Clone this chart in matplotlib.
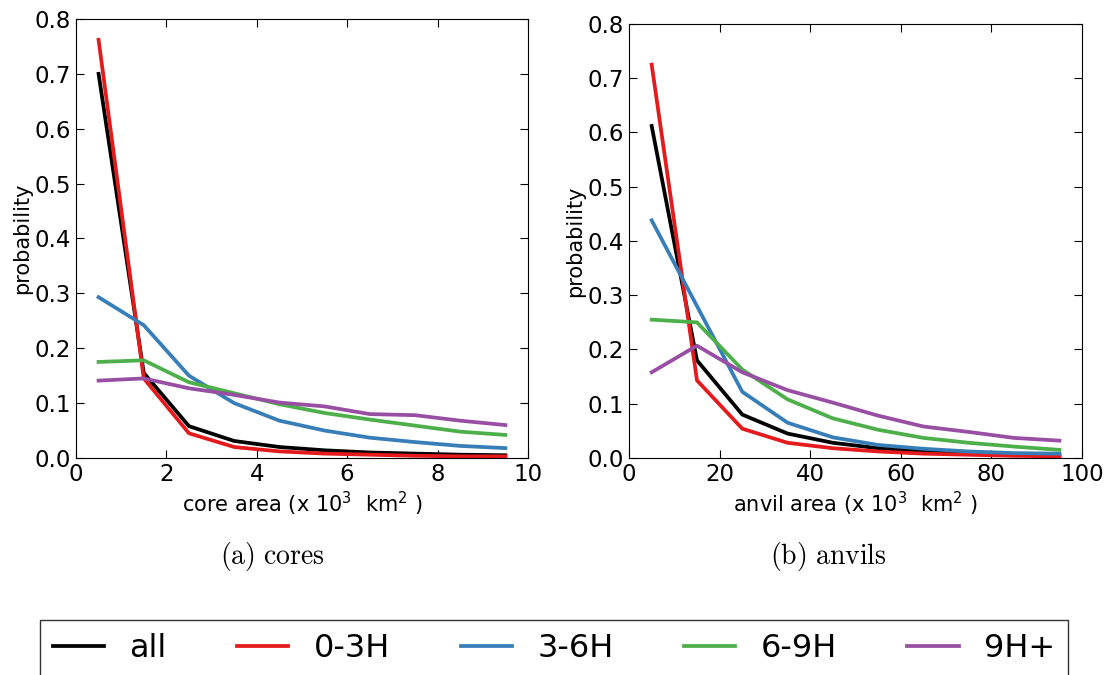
import numpy as np
import matplotlib.pyplot as plt

# bin centres
core_x = [0.5, 1.5, 2.5, 3.5, 4.5, 5.5, 6.5, 7.5, 8.5, 9.5]
anvil_x = [5, 15, 25, 35, 45, 55, 65, 75, 85, 95]

labels = ['all', '0-3H', '3-6H', '6-9H', '9H+']
colors = ['black', '#e41a1c', '#377eb8', '#4daf4a', '#984ea3']

# core area distributions
core_all = [0.700, 0.155, 0.058, 0.031, 0.020, 0.014, 0.010, 0.008, 0.006, 0.005]
core_03 = [0.762, 0.145, 0.045, 0.020, 0.012, 0.008, 0.006, 0.004, 0.003, 0.003]
core_36 = [0.293, 0.242, 0.150, 0.100, 0.068, 0.050, 0.037, 0.029, 0.022, 0.018]
core_69 = [0.175, 0.178, 0.138, 0.118, 0.098, 0.082, 0.070, 0.059, 0.048, 0.042]
core_9p = [0.141, 0.145, 0.127, 0.115, 0.101, 0.094, 0.080, 0.078, 0.068, 0.060]

# anvil area distributions
anvil_all = [0.612, 0.180, 0.080, 0.045, 0.028, 0.018, 0.013, 0.009, 0.007, 0.005]
anvil_03 = [0.725, 0.143, 0.054, 0.028, 0.018, 0.012, 0.008, 0.006, 0.004, 0.003]
anvil_36 = [0.438, 0.280, 0.122, 0.065, 0.038, 0.024, 0.017, 0.012, 0.009, 0.008]
anvil_69 = [0.255, 0.250, 0.163, 0.108, 0.073, 0.052, 0.037, 0.028, 0.021, 0.015]
anvil_9p = [0.158, 0.207, 0.158, 0.125, 0.102, 0.078, 0.058, 0.048, 0.037, 0.032]

core = [core_all, core_03, core_36, core_69, core_9p]
anvil = [anvil_all, anvil_03, anvil_36, anvil_69, anvil_9p]

fig = plt.figure(figsize=(11.09, 6.75), dpi=100)
ax1 = fig.add_axes([0.0685, 0.3215, 0.4076, 0.6504])
ax2 = fig.add_axes([0.5672, 0.3215, 0.4085, 0.6430])

panels = [(ax1, core_x, core, 10, 'core'), (ax2, anvil_x, anvil, 100, 'anvil')]
for ax, x, series, xmax, name in panels:
    for y, c, lab in zip(series, colors, labels):
        ax.plot(x, y, color=c, lw=2.7, label=lab)
    ax.set_xlim(0, xmax)
    ax.set_ylim(0, 0.8)
    ax.set_yticks(np.arange(0, 0.81, 0.1))
    ax.tick_params(direction='in', top=True, right=True, length=6, labelsize=16.5)
    ax.set_ylabel('probability', fontsize=15, labelpad=2)
    ax.set_xlabel(name + ' area (x $10^3$  km$^2$ )', fontsize=15, labelpad=3)

fig.text(0.246, 0.175, r'$\mathrm{(a)\ cores}$', ha='center', va='center',
         fontsize=20, math_fontfamily='cm')
fig.text(0.747, 0.175, r'$\mathrm{(b)\ anvils}$', ha='center', va='center',
         fontsize=20, math_fontfamily='cm')

handles, labs = ax1.get_legend_handles_labels()
leg = fig.legend(handles, labs, loc='upper left', ncol=5, mode='expand',
                 bbox_to_anchor=(0.036, -0.2, 0.927, 0.2 + 1 - 620 / 675),
                 fontsize=23, handlelength=1.6, frameon=True, fancybox=False,
                 borderaxespad=0, borderpad=0.4)
leg.get_frame().set_edgecolor('black')
leg.get_frame().set_linewidth(1.0)

fig.savefig('out.png', dpi=100)
